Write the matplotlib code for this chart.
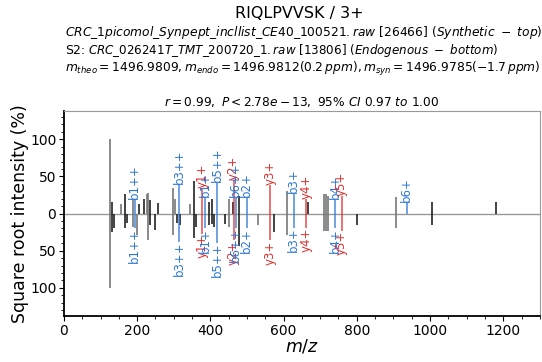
import numpy as np
import matplotlib
matplotlib.use('Agg')
import matplotlib.pyplot as plt
from matplotlib.ticker import MultipleLocator, FuncFormatter

plt.rcParams.update({
    'font.family': 'DejaVu Sans',
    'mathtext.fontset': 'dejavusans',
})

# unmatched peaks: m/z, synthetic (top), endogenous (bottom), shade
peak_mz = [127, 130, 136, 156, 168, 173, 188, 199, 205, 219, 226, 230, 235,
           249, 258, 299, 302, 309, 318, 343, 356, 361, 396, 404, 409, 441,
           452, 462, 478, 531, 575, 608, 668, 710, 716, 720, 801, 906, 1006,
           1180]
peak_top = [100, 16, 0, 13, 27, 0, 20, 0, 13, 20, 27, 28, 18,
            0, 14, 34, 20, 0, 0, 13, 44, 0, 16, 20, 0, 0,
            20, 16, 24, 0, 0, 31, 15, 26, 26, 24, 0, 23, 15,
            15]
peak_bot = [100, 25, 20, 0, 20, 13, 18, 29, 0, 0, 0, 36, 16,
            22, 0, 29, 0, 13, 16, 0, 33, 18, 16, 14, 18, 14,
            18, 0, 43, 16, 25, 29, 0, 23, 23, 23, 16, 20, 16,
            0]
peak_shade = ['g', 'k', 'k', 'g', 'k', 'k', 'g', 'g', 'k', 'k', 'g', 'g', 'k',
              'k', 'k', 'g', 'g', 'k', 'k', 'g', 'k', 'k', 'k', 'k', 'k', 'k',
              'g', 'k', 'k', 'g', 'k', 'g', 'k', 'g', 'g', 'g', 'k', 'g', 'k',
              'k']

# annotated fragment ions
ion_label = ['b1++', 'b3++', 'y1+', 'b1+', 'b5++', 'y2+', 'b6++', 'b2+',
             'y3+', 'b3+', 'y4+', 'b4+', 'y5+', 'b6+']
ion_mz = [193.6, 314.2, 376.3, 386.3, 419.3, 463.3, 468.8, 499.4,
          562.4, 627.4, 661.4, 740.5, 758.5, 936.6]
ion_top = [20, 40, 35, 22, 42, 45, 22, 22, 38, 28, 20, 20, 24, 15]
ion_bot = [20, 38, 27, 19, 39, 36, 19, 19, 36, 19, 19, 19, 23, 0]

SHADES = {'k': '#222222', 'g': '#777777'}
BLUE = '#2f78d6'
RED = '#e0302f'

fig = plt.figure(figsize=(5.42, 3.62), dpi=100)
ax = fig.add_axes([0.118, 0.127, 0.878, 0.566])

ax.axhline(0, color='#999999', linewidth=1.0, zorder=1)

for mz, t, b, s in zip(peak_mz, peak_top, peak_bot, peak_shade):
    c = SHADES[s]
    if t > 0:
        ax.vlines(mz, 0, t, color=c, linewidth=1.2, zorder=2)
    if b > 0:
        ax.vlines(mz, -b, 0, color=c, linewidth=1.2, zorder=2)

for lab, mz, t, b in zip(ion_label, ion_mz, ion_top, ion_bot):
    c = BLUE if lab.startswith('b') else RED
    if t > 0:
        ax.vlines(mz, 0, t, color=c, linewidth=1.2, alpha=0.8, zorder=3)
        ax.text(mz, t, lab, rotation=90, ha='center', va='bottom',
                color=c, fontsize=8.5, zorder=4)
    if b > 0:
        ax.vlines(mz, -b, 0, color=c, linewidth=1.2, alpha=0.8, zorder=3)
        ax.text(mz, -b, lab, rotation=90, ha='center', va='top',
                color=c, fontsize=8.5, zorder=4)

ax.set_xlim(0, 1300)
ax.set_ylim(-138, 138)
ax.xaxis.set_major_locator(MultipleLocator(200))
ax.xaxis.set_minor_locator(MultipleLocator(50))
ax.yaxis.set_major_locator(MultipleLocator(50))
ax.yaxis.set_minor_locator(MultipleLocator(10))
ax.yaxis.set_major_formatter(FuncFormatter(lambda v, p: f'{abs(v):.0f}'))
ax.tick_params(labelsize=10, direction='out', pad=2)
ax.tick_params(which='minor', length=2)

for side in ['top', 'right']:
    ax.spines[side].set_color('#999999')
ax.spines['left'].set_linewidth(1.3)
ax.spines['bottom'].set_linewidth(1.3)

ax.set_xlabel('$m/z$', fontsize=12.5, labelpad=0)
ax.set_ylabel('Square root intensity (%)', fontsize=12.5, labelpad=1)

fig.text(0.553, 0.962, 'RIQLPVVSK / 3+', ha='center', va='center', fontsize=11.5)
fig.text(0.12, 0.910,
         r'$CRC\_1picomol\_Synpept\_incllist\_CE40\_100521.raw\ [26466]\ (Synthetic\ -\ top)$',
         ha='left', va='center', fontsize=8.8)
fig.text(0.12, 0.861, 'S2:', ha='left', va='center', fontsize=9)
fig.text(0.163, 0.861,
         r'$CRC\_026241T\_TMT\_200720\_1.raw\ [13806]\ (Endogenous\ -\ bottom)$',
         ha='left', va='center', fontsize=8.6)
fig.text(0.12, 0.810,
         r'$m_{theo}=1496.9809, m_{endo}=1496.9812(0.2\,ppm), m_{syn}=1496.9785(-1.7\,ppm)$',
         ha='left', va='center', fontsize=8.8)
fig.text(0.556, 0.717,
         r'$r=0.99,\ P<2.78e-13,\ 95\%\ CI\ 0.97\ to\ 1.00$',
         ha='center', va='center', fontsize=8.7)

fig.savefig('out.png', dpi=100)
